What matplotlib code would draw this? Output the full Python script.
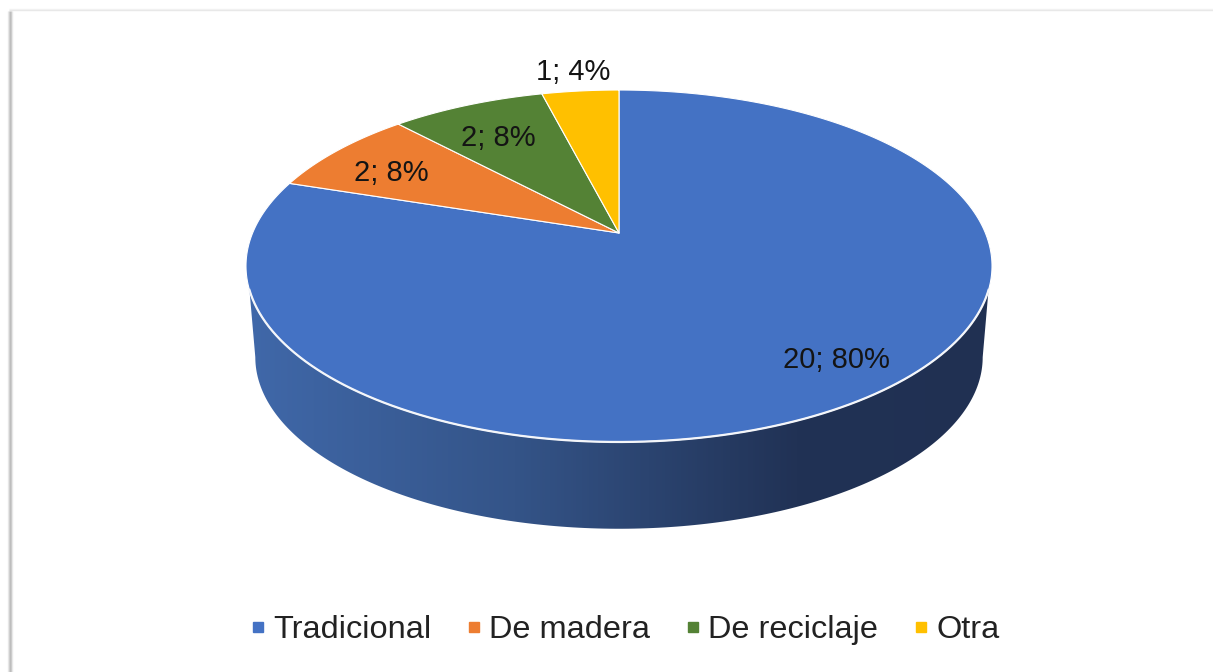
import numpy as np
import matplotlib
matplotlib.use("Agg")
import matplotlib.pyplot as plt
from matplotlib.colors import LinearSegmentedColormap
from matplotlib.lines import Line2D

categories = ["Tradicional", "De madera", "De reciclaje", "Otra"]
values = [20, 2, 2, 1]
colors = ["#4472C4", "#ED7D31", "#548235", "#FFC000"]
label_pos = [(836, 360), (391, 173), (498, 138), (573, 72)]

plt.rcParams["font.family"] = ["Liberation Sans", "DejaVu Sans"]

# perspective of the disc, in pixels
cx = 619
top_y = 233
low_y = 325
k = 0.1875
a = 169.8
b = 366.4


def rim(t, y0=top_y, scale=1.0):
    u = np.cos(t)
    v = np.sin(t)
    d = 1 + k * v
    return cx + scale * b * u / d, y0 - scale * a * v / d


fig = plt.figure(figsize=(12.13, 6.72), dpi=100)
ax = fig.add_axes([0, 0, 1, 1])

# page shadow left and top
for x, c in zip([8, 9, 10, 11, 12], ["#ececec", "#d4d4d4", "#bcbcbc", "#c4c4c4", "#e8e8e8"]):
    ax.plot([x, x], [11, 672], color=c, lw=1, solid_capstyle="butt")
for y, c in zip([9, 10], ["#f4f4f4", "#e8e8e8"]):
    ax.plot([9, 1213], [y, y], color=c, lw=1, solid_capstyle="butt")

# side of the cylinder with the horizontal gradient
t_start = np.arcsin(-0.316)
t_low = np.arcsin(-k)
t1 = np.linspace(np.pi - t_start, 2 * np.pi + t_start, 200)
t2 = np.linspace(2 * np.pi + t_low, np.pi - t_low, 200)
x1, y1 = rim(t1)
x2, y2 = rim(t2, low_y, 0.975)
side, = ax.fill(np.r_[x1, x2], np.r_[y1, y2], color="none", lw=0)
side_cmap = LinearSegmentedColormap.from_list(
    "side", [(0, "#4068A9"), (0.36, "#345488"), (0.74, "#213255"), (1, "#203052")])
im = ax.imshow(np.linspace(0, 1, 400).reshape(1, -1), cmap=side_cmap, aspect="auto",
               extent=[246, 992, 540, 280], zorder=2)
im.set_clip_path(side)

# top face
start = np.pi / 2
total = sum(values)
for val, col in zip(values, colors):
    end = start - 2 * np.pi * val / total
    t = np.linspace(start, end, 300)
    xs, ys = rim(t)
    ax.fill(np.r_[cx, xs], np.r_[top_y, ys], facecolor=col, edgecolor="white",
            lw=0.8, joinstyle="round", zorder=3)
    start = end

ax.plot(x1, y1, color="#f4f6fa", lw=1.6, zorder=4)

for val, pos in zip(values, label_pos):
    ax.text(pos[0], pos[1], f"{val}; {val / total:.0%}", fontsize=21, color="#141414",
            ha="center", va="center", zorder=5)

handles = [Line2D([], [], ls="none", marker="s", ms=7.5, color=c) for c in colors]
ax.legend(handles, categories, ncol=4, loc="center", bbox_to_anchor=(625, 630),
          bbox_transform=ax.transData, frameon=False, fontsize=23.4, labelcolor="#222222",
          handlelength=0.45, handletextpad=0.25, columnspacing=1.08, borderpad=0)

ax.set_xlim(0, 1213)
ax.set_ylim(672, 0)
ax.axis("off")
fig.savefig("out.png", dpi=100)
